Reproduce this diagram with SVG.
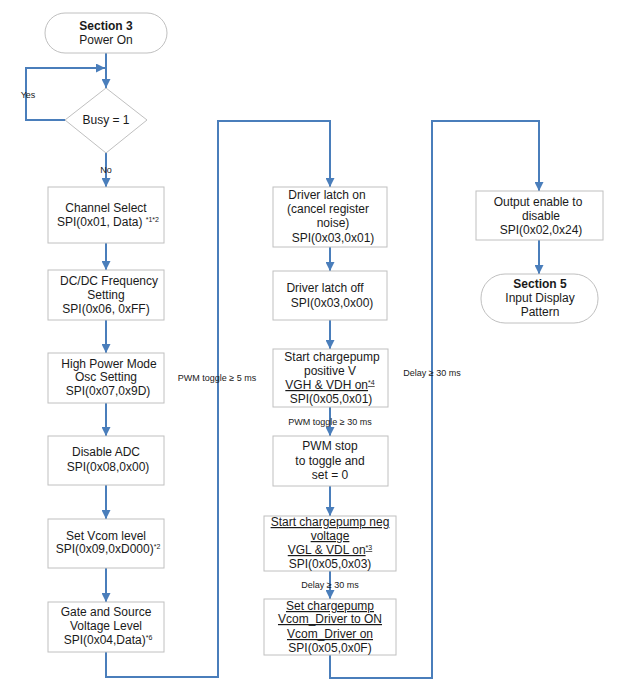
<svg xmlns="http://www.w3.org/2000/svg" width="623" height="697" viewBox="0 0 623 697">
<defs>
<marker id="arr" viewBox="0 0 10 10" refX="10" refY="5" markerWidth="9" markerHeight="9" markerUnits="userSpaceOnUse" orient="auto">
<path d="M0,0 L10,5 L0,10 z" fill="#4a7ebb"/>
</marker>
<style>
.box{fill:#fff;stroke:#c0c0c0;stroke-width:1}
.t{font-family:"Liberation Sans",Arial,sans-serif;font-size:12px;fill:#1a1a1a;text-anchor:middle}
.b{font-weight:bold}
.u{text-decoration:underline}
.sup{font-size:7px}
.lbl{font-family:"Liberation Sans",Arial,sans-serif;font-size:9px;fill:#1a1a1a;text-anchor:middle}
.c{fill:none;stroke:#4a7ebb;stroke-width:2}
.ca{fill:none;stroke:#4a7ebb;stroke-width:2;marker-end:url(#arr)}
</style>
</defs>
<rect width="623" height="697" fill="#fff"/>

<g id="connectors">
<path class="ca" d="M106,53 V88"/>
<path class="ca" d="M65,120 H26 V68 H105"/>
<path class="ca" d="M106,153 V187"/>
<path class="ca" d="M106,243 V270"/>
<path class="ca" d="M106,320 V353"/>
<path class="ca" d="M106,403 V436"/>
<path class="ca" d="M106,485 V519"/>
<path class="ca" d="M106,568 V602"/>
<path class="ca" d="M106,652 V677 H218 V121 H330 V187"/>
<path class="ca" d="M330,247 V271"/>
<path class="ca" d="M330,320 V349"/>
<path class="ca" d="M330,407 V436"/>
<path class="ca" d="M330,486 V516"/>
<path class="ca" d="M330,571 V599"/>
<path class="ca" d="M330,655 V678 H432 V121 H539 V191"/>
<path class="ca" d="M539,240 V274"/>
<text class="lbl" x="28" y="98">Yes</text>
<text class="lbl" x="106" y="173">No</text>
<text class="lbl" x="217" y="381">PWM toggle ≥ 5 ms</text>
<text class="lbl" x="330" y="425">PWM toggle ≥ 30 ms</text>
<text class="lbl" x="330" y="588">Delay ≥ 30 ms</text>
<text class="lbl" x="432" y="376">Delay ≥ 30 ms</text>
</g>

<g id="start">
<rect class="box" x="45" y="13" width="122" height="40" rx="20" ry="20"/>
<text class="t b" x="106" y="30">Section 3</text>
<text class="t" x="106" y="44">Power On</text>
</g>

<g id="busy">
<polygon class="box" points="106,88 147,120 106,153 65,120"/>
<text class="t" x="106" y="124">Busy = 1</text>
</g>

<g id="channel-select">
<rect class="box" x="48" y="187" width="116" height="56"/>
<text class="t" x="106" y="212">Channel Select</text>
<text class="t" x="108" y="226">SPI(0x01, Data) <tspan class="sup" dy="-4">*1*2</tspan></text>
</g>

<g id="dcdc">
<rect class="box" x="48" y="270" width="116" height="50"/>
<text class="t" x="109" y="285">DC/DC Frequency</text>
<text class="t" x="106" y="299">Setting</text>
<text class="t" x="106" y="313">SPI(0x06, 0xFF)</text>
</g>

<g id="high-power">
<rect class="box" x="48" y="353" width="116" height="50"/>
<text class="t" x="109" y="368">High Power Mode</text>
<text class="t" x="106" y="381">Osc Setting</text>
<text class="t" x="108" y="395">SPI(0x07,0x9D)</text>
</g>

<g id="disable-adc">
<rect class="box" x="48" y="436" width="116" height="49"/>
<text class="t" x="106" y="456">Disable ADC</text>
<text class="t" x="108" y="471">SPI(0x08,0x00)</text>
</g>

<g id="set-vcom">
<rect class="box" x="48" y="519" width="116" height="49"/>
<text class="t" x="106" y="540">Set Vcom level</text>
<text class="t" x="108" y="553">SPI(0x09,0xD000)<tspan class="sup" dy="-4">*2</tspan></text>
</g>

<g id="gate-source">
<rect class="box" x="48" y="602" width="116" height="50"/>
<text class="t" x="106" y="616">Gate and Source</text>
<text class="t" x="106" y="630">Voltage Level</text>
<text class="t" x="108" y="644">SPI(0x04,Data)<tspan class="sup" dy="-4">*6</tspan></text>
</g>

<g id="driver-latch-on">
<rect class="box" x="273" y="187" width="114" height="60"/>
<text class="t" x="327" y="199">Driver latch on</text>
<text class="t" x="328" y="213">(cancel register</text>
<text class="t" x="333" y="227">noise)</text>
<text class="t" x="333" y="242">SPI(0x03,0x01)</text>
</g>

<g id="driver-latch-off">
<rect class="box" x="273" y="271" width="114" height="49"/>
<text class="t" x="325" y="292">Driver latch off</text>
<text class="t" x="332" y="307">SPI(0x03,0x00)</text>
</g>

<g id="chargepump-pos">
<rect class="box" x="273" y="349" width="115" height="58"/>
<text class="t" x="332" y="361">Start chargepump</text>
<text class="t" x="330" y="375">positive V</text>
<text class="t" x="330" y="389"><tspan class="u">VGH &amp; VDH on</tspan><tspan class="sup u" dy="-4">*4</tspan></text>
<text class="t" x="331" y="403">SPI(0x05,0x01)</text>
</g>

<g id="pwm-stop">
<rect class="box" x="273" y="436" width="115" height="50"/>
<text class="t" x="330" y="450">PWM stop</text>
<text class="t" x="330" y="465">to toggle and</text>
<text class="t" x="330" y="479">set = 0</text>
</g>

<g id="chargepump-neg">
<rect class="box" x="264" y="516" width="132" height="55"/>
<text class="t u" x="330" y="526">Start chargepump neg</text>
<text class="t u" x="330" y="540">voltage</text>
<text class="t" x="330" y="554"><tspan class="u">VGL &amp; VDL on</tspan><tspan class="sup u" dy="-4">*3</tspan></text>
<text class="t" x="330" y="568">SPI(0x05,0x03)</text>
</g>

<g id="vcom-driver">
<rect class="box" x="264" y="599" width="132" height="56"/>
<text class="t u" x="330" y="610">Set chargepump</text>
<text class="t u" x="330" y="623">Vcom_Driver to ON</text>
<text class="t u" x="330" y="638">Vcom_Driver on</text>
<text class="t" x="330" y="652">SPI(0x05,0x0F)</text>
</g>

<g id="output-enable">
<rect class="box" x="476" y="191" width="127" height="49"/>
<text class="t" x="538" y="206">Output enable to</text>
<text class="t" x="541" y="220">disable</text>
<text class="t" x="541" y="234">SPI(0x02,0x24)</text>
</g>

<g id="section5">
<rect class="box" x="481" y="274" width="117" height="49" rx="24" ry="24"/>
<text class="t b" x="540" y="288">Section 5</text>
<text class="t" x="540" y="302">Input Display</text>
<text class="t" x="540" y="316">Pattern</text>
</g>
</svg>
